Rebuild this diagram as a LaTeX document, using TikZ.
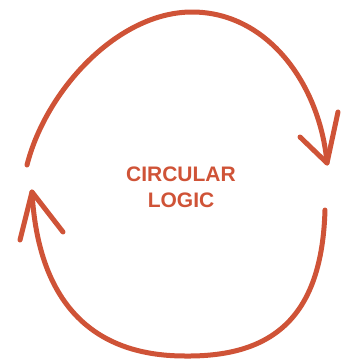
\documentclass[tikz,border=0pt]{standalone}
\usepackage{fontspec}
\setmainfont{Liberation Sans}
\definecolor{loopred}{RGB}{207,83,55}

\begin{document}
\begin{tikzpicture}[x=1pt, y=-1pt,
		% Style for the two looping strokes
		loopStroke/.style={draw=loopred, line width=5pt, line cap=round, line join=round},
		% Title in the middle
		mainTitle/.style={font=\bfseries\fontsize{21}{26.5}\selectfont, text=loopred, align=center}
	]
	\useasboundingbox (0,0) rectangle (350,360);

	% ==============================================================================
	% Upper arc: left -> right
	% ==============================================================================
	\coordinate (upStart) at (27,165);
	\coordinate (upTop) at (192,12);
	\coordinate (upTip) at (327,163);
	\coordinate (upBarbL) at (300,137);
	\coordinate (upBarbR) at (338,112);
	\draw[loopStroke] (upStart) .. controls (46,90) and (118,12) .. (upTop)
		.. controls (268,12) and (320,85) .. (upTip);
	\draw[loopStroke] (upBarbL) -- (upTip) -- (upBarbR);

	% ==============================================================================
	% Lower arc: right -> left
	% ==============================================================================
	\coordinate (lowStart) at (325,210);
	\coordinate (lowBottom) at (185,356);
	\coordinate (lowTip) at (32,192);
	\coordinate (lowBarbL) at (20,240);
	\coordinate (lowBarbR) at (63,232);
	\draw[loopStroke] (lowStart) .. controls (322,315) and (275,357) .. (lowBottom)
		.. controls (90,356) and (38,300) .. (lowTip);
	\draw[loopStroke] (lowBarbL) -- (lowTip) -- (lowBarbR);

	% Title
	\node[mainTitle] (title) at (181,187.5) {CIRCULAR\\LOGIC};
\end{tikzpicture}
\end{document}
